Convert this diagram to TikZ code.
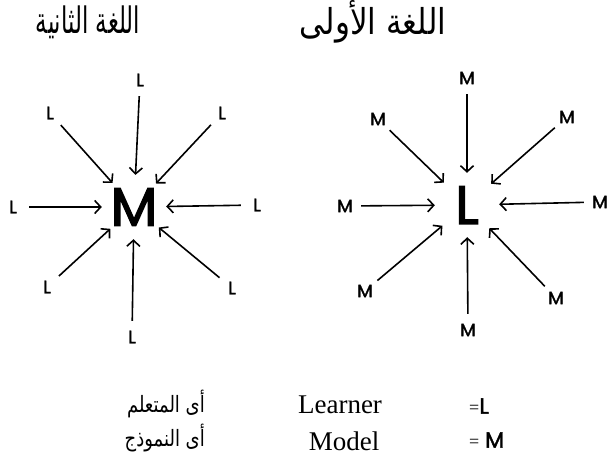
\documentclass[tikz,border=0pt]{standalone}
\usepackage{fontspec}
\setmainfont{Liberation Serif}
\newfontfamily\arabicfont[Script=Arabic]{DejaVu Sans}
\newfontfamily\labfont[FakeBold=2]{Poppins}
\newfontfamily\hubfont[FakeBold=2.5]{Poppins}
\TeXXeTstate=1
\usetikzlibrary{arrows.meta}
\begin{document}
\begin{tikzpicture}[x=1pt,y=-1pt,
  lab/.style={circle,inner sep=0pt,minimum size=32pt,font=\labfont\fontsize{18}{18}\selectfont},
  hub/.style={circle,inner sep=0pt,minimum size=64pt,font=\hubfont\fontsize{54}{54}\selectfont},
  arr/.style={line width=1.6pt,-{Straight Barb[length=6pt,width=13pt,line width=1.6pt]}},
  ttl/.style={inner sep=0pt,font=\arabicfont},
  legar/.style={inner sep=0pt,font=\arabicfont\fontsize{18}{20}\selectfont,yscale=1.25,transform shape},
  legen/.style={inner sep=0pt,font=\fontsize{27}{29}\selectfont},
  legeq/.style={inner sep=0pt,font=\labfont\fontsize{22}{24}\selectfont}]
\useasboundingbox (0,0) rectangle (612,460);
% titles
\node[ttl,xscale=0.85,yscale=1.35,transform shape] (t2) at (88,22) {\fontsize{27}{30}\selectfont\beginR اللغة الثانية\endR};
\node[ttl,yscale=1.15,transform shape] (t1) at (373,22) {\fontsize{31}{34}\selectfont\beginR اللغة الأولى\endR};
% left star
\node[hub] (cM) at (134,207) {M};
\node[lab] (l1) at (140,80) {L};
\node[lab] (l2) at (50,113) {L};
\node[lab] (l3) at (222,113) {L};
\node[lab] (l4) at (13,207) {L};
\node[lab] (l5) at (257,205) {L};
\node[lab] (l6) at (47,287) {L};
\node[lab] (l7) at (132,337) {L};
\node[lab] (l8) at (232,288) {L};
\foreach \n in {l1,l2,l3,l4,l5,l6,l7,l8} \draw[arr] (\n) -- (cM);
% right star
\node[hub] (cL) at (467,205) {L};
\node[lab] (m1) at (467,78) {M};
\node[lab] (m2) at (378,119) {M};
\node[lab] (m3) at (567,117) {M};
\node[lab] (m4) at (345,206) {M};
\node[lab] (m5) at (600,202) {M};
\node[lab] (m6) at (365,291) {M};
\node[lab] (m7) at (468,330) {M};
\node[lab] (m8) at (556,298) {M};
\foreach \n in {m1,m2,m3,m4,m5,m6,m7,m8} \draw[arr] (\n) -- (cL);
% legend
\node[legar,anchor=east] (a1) at (205,404) {\beginR أى المتعلم\endR};
\node[legar,anchor=east] (a2) at (205,438) {\beginR أى النموذج\endR};
\node[legen] (e1) at (340,405) {Learner};
\node[legen] (e2) at (344,441) {Model};
\node[legeq,anchor=west] (q1) at (469,406) {{\rmfamily\fontsize{18}{18}\selectfont=}L};
\node[legeq,anchor=west] (q2) at (469,440) {{\rmfamily\fontsize{18}{18}\selectfont=} M};
\end{tikzpicture}
\end{document}
